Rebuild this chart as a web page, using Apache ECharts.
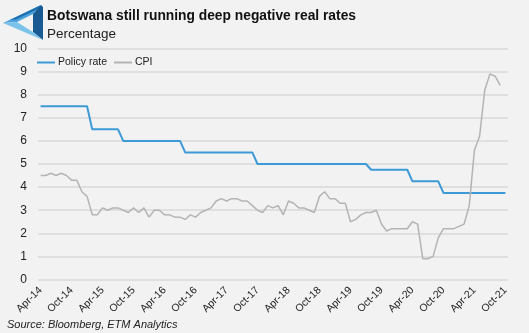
<!DOCTYPE html>
<html>
<head>
<meta charset="utf-8">
<script src="https://cdn.jsdelivr.net/npm/echarts@6/dist/echarts.min.js"></script>
<style>
  html, body { margin: 0; padding: 0; background: #f2f2f2; }
  #chart { width: 529px; height: 333px; }
</style>
</head>
<body>
<div id="chart"></div>
<script>
// Monthly observations, Apr-14 .. Oct-21
const monthNames = ['Jan','Feb','Mar','Apr','May','Jun','Jul','Aug','Sep','Oct','Nov','Dec'];
const startYear = 2014, startMonth = 3, monthCount = 91;
const categories = [];
for (let k = 0; k < monthCount; k++) {
  const m = (startMonth + k) % 12;
  const y = startYear + Math.floor((startMonth + k) / 12);
  categories.push(monthNames[m] + '-' + String(y).slice(2));
}

// Bank of Botswana policy rate (%)
const policyRate = [
  7.5, 7.5, 7.5, 7.5, 7.5, 7.5, 7.5, 7.5, 7.5, 7.5,
  6.5, 6.5, 6.5, 6.5, 6.5, 6.5,
  6.0, 6.0, 6.0, 6.0, 6.0, 6.0, 6.0, 6.0, 6.0, 6.0, 6.0, 6.0,
  5.5, 5.5, 5.5, 5.5, 5.5, 5.5, 5.5, 5.5, 5.5, 5.5, 5.5, 5.5, 5.5, 5.5,
  5.0, 5.0, 5.0, 5.0, 5.0, 5.0, 5.0, 5.0, 5.0, 5.0, 5.0,
  5.0, 5.0, 5.0, 5.0, 5.0, 5.0, 5.0, 5.0, 5.0, 5.0, 5.0,
  4.75, 4.75, 4.75, 4.75, 4.75, 4.75, 4.75, 4.75,
  4.25, 4.25, 4.25, 4.25, 4.25, 4.25,
  3.75, 3.75, 3.75, 3.75, 3.75, 3.75, 3.75, 3.75, 3.75, 3.75, 3.75, 3.75, 3.75
];

// Headline CPI inflation, y/y (%)
const cpi = [
  4.5, 4.5, 4.6, 4.5, 4.6, 4.5, 4.3, 4.3, 3.8, 3.6, 2.8, 2.8,
  3.1, 3.0, 3.1, 3.1, 3.0, 2.9, 3.1, 2.9, 3.1, 2.7, 3.0, 3.0,
  2.8, 2.8, 2.7, 2.7, 2.6, 2.8, 2.7, 2.9, 3.0, 3.1, 3.4, 3.5,
  3.4, 3.5, 3.5, 3.4, 3.4, 3.2, 3.0, 2.9, 3.2, 3.1, 3.2, 2.8,
  3.4, 3.3, 3.1, 3.1, 3.0, 2.9, 3.6, 3.8, 3.5, 3.5, 3.3, 3.3,
  2.5, 2.6, 2.8, 2.9, 2.9, 3.0, 2.4, 2.1, 2.2, 2.2, 2.2, 2.2,
  2.5, 2.4, 0.9, 0.9, 1.0, 1.8, 2.2, 2.2, 2.2, 2.3, 2.4, 3.2,
  5.6, 6.2, 8.2, 8.9, 8.8, 8.4
];

const yTicks = { min: 0, max: 10, step: 1 };
const labelEvery = 6;

const chart = echarts.init(document.getElementById('chart'), null, { renderer: 'canvas' });

const option = {
  backgroundColor: '#f2f2f2',
  animation: false,
  title: {
    text: 'Botswana still running deep negative real rates',
    subtext: 'Percentage',
    left: 47,
    top: 9,
    padding: 0,
    itemGap: 4,
    textStyle: {
      fontFamily: '"Liberation Sans", Arial, sans-serif',
      fontWeight: 'bold',
      fontSize: 13.8,
      color: '#111111'
    },
    subtextStyle: {
      fontFamily: '"Liberation Sans", Arial, sans-serif',
      fontSize: 13.5,
      color: '#222222'
    }
  },
  graphic: [
    // triangular logo mark
    { type: 'polygon', shape: { points: [[3, 23], [41, 5], [33, 14], [17, 22]] },
      style: { fill: '#4aa3dc' } },
    { type: 'polygon', shape: { points: [[10, 20], [41, 5], [38, 9], [16, 19.5]] },
      style: { fill: '#1f6fb0' } },
    { type: 'polygon', shape: { points: [[41, 5], [43, 7], [43, 40], [33, 32], [33, 14]] },
      style: { fill: '#1a5a92' } },
    { type: 'polygon', shape: { points: [[3, 23], [17, 22], [33, 32], [43, 40]] },
      style: { fill: '#7cc3ea' } },
    { type: 'text', left: 7, top: 319,
      style: {
        text: 'Source: Bloomberg, ETM Analytics',
        fontFamily: '"Liberation Sans", Arial, sans-serif',
        fontStyle: 'italic',
        fontSize: 11,
        fill: '#222222'
      } }
  ],
  legend: {
    left: 37,
    top: 57,
    padding: 0,
    itemWidth: 18,
    itemHeight: 2,
    itemGap: 7,
    icon: 'rect',
    textStyle: {
      fontFamily: '"Liberation Sans", Arial, sans-serif',
      fontSize: 10.5,
      color: '#222222',
      padding: [0, 0, 0, -2]
    },
    data: ['Policy rate', 'CPI']
  },
  grid: {
    left: 38,
    right: 21,
    top: 48.5,
    bottom: 53.5,
    containLabel: false
  },
  xAxis: {
    type: 'category',
    data: categories,
    boundaryGap: true,
    axisLine: { show: false },
    axisTick: { show: false },
    axisLabel: {
      rotate: 45,
      margin: 9,
      interval: labelEvery - 1,
      fontFamily: '"Liberation Sans", Arial, sans-serif',
      fontSize: 10.5,
      color: '#222222'
    },
    splitLine: { show: false }
  },
  yAxis: {
    type: 'value',
    min: yTicks.min,
    max: yTicks.max,
    interval: yTicks.step,
    axisLine: { show: false },
    axisTick: { show: false },
    axisLabel: {
      margin: 11,
      fontFamily: '"Liberation Sans", Arial, sans-serif',
      fontSize: 12,
      color: '#222222'
    },
    splitLine: { lineStyle: { color: '#d9d9d9', width: 1.5 } }
  },
  series: [
    {
      name: 'Policy rate',
      type: 'line',
      data: policyRate,
      showSymbol: false,
      symbol: 'none',
      itemStyle: { color: '#3d9ad6' },
      lineStyle: { color: '#3d9ad6', width: 2 }
    },
    {
      name: 'CPI',
      type: 'line',
      data: cpi,
      showSymbol: false,
      symbol: 'none',
      itemStyle: { color: '#b4b4b4' },
      lineStyle: { color: '#b4b4b4', width: 1.5 }
    }
  ]
};

chart.setOption(option);
</script>
</body>
</html>
